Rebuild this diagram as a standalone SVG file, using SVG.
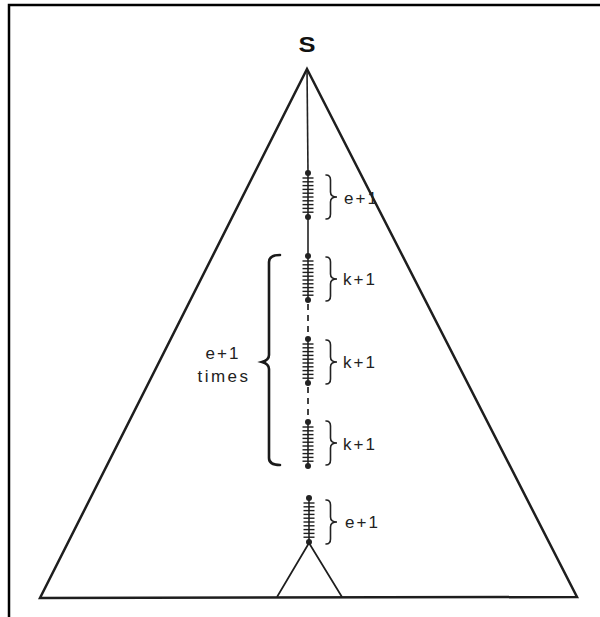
<svg xmlns="http://www.w3.org/2000/svg" xmlns:xlink="http://www.w3.org/1999/xlink" width="600" height="617" viewBox="0 0 600 617">
<style>
.frame{stroke:#000;stroke-width:2.5;fill:none}
.tri{stroke:#1e1e1e;stroke-width:2.5;fill:none;stroke-linejoin:miter}
.small{stroke:#1e1e1e;stroke-width:1.7;fill:none}
.spine{stroke:#222;stroke-width:1.6;fill:none}
.dash{stroke:#222;stroke-width:1.7;fill:none;stroke-dasharray:6 5}
.tick{stroke:#1e1e1e;stroke-width:1.4}
.brace{stroke:#222;stroke-width:1.6;fill:none;stroke-linecap:round}
.bigbrace{stroke:#1a1a1a;stroke-width:2.6;fill:none;stroke-linecap:round}
.lbl{font-family:"Liberation Sans",Arial,sans-serif;font-size:17px;letter-spacing:2px;fill:#222}
.s{font-family:"Liberation Sans",Arial,sans-serif;font-size:22px;font-weight:bold;fill:#111}
</style>
<defs>
<g id="seg">
<line class="spine" x1="0" y1="0" x2="0" y2="44"/>
<g class="tick">
<line x1="-5.5" y1="5" x2="5.5" y2="5"/>
<line x1="-5.5" y1="8.8" x2="5.5" y2="8.8"/>
<line x1="-5.5" y1="12.6" x2="5.5" y2="12.6"/>
<line x1="-5.5" y1="16.4" x2="5.5" y2="16.4"/>
<line x1="-5.5" y1="20.2" x2="5.5" y2="20.2"/>
<line x1="-5.5" y1="24" x2="5.5" y2="24"/>
<line x1="-5.5" y1="27.8" x2="5.5" y2="27.8"/>
<line x1="-5.5" y1="31.6" x2="5.5" y2="31.6"/>
<line x1="-5.5" y1="35.4" x2="5.5" y2="35.4"/>
<line x1="-5.5" y1="39.2" x2="5.5" y2="39.2"/>
</g>
<circle cx="0" cy="0" r="3" fill="#222"/>
<circle cx="0" cy="44" r="3" fill="#222"/>
</g>
<path id="br" class="brace" d="M0,0 Q4.5,0 4.5,5 L4.5,17 Q4.5,22 11,22 Q4.5,22 4.5,27 L4.5,39 Q4.5,44 0,44"/>
</defs>

<g id="frame">
<polyline class="frame" points="9,617 9,5 600,5"/>
</g>

<g id="tree">
<polygon class="tri" points="307,69 577,597 40,598"/>
<text class="s" x="307" y="52" text-anchor="middle" textLength="17" lengthAdjust="spacingAndGlyphs">S</text>
</g>

<g id="connectors">
<line class="spine" x1="307" y1="69" x2="308" y2="173"/>
<line class="spine" x1="308" y1="217" x2="308" y2="256"/>
<line class="dash" x1="308" y1="304" x2="308" y2="339"/>
<line class="dash" x1="308" y1="387" x2="308" y2="422"/>
</g>

<g id="seg-e1-top">
<use xlink:href="#seg" transform="translate(308,173)"/>
<use xlink:href="#br" transform="translate(326,175)"/>
<text class="lbl" x="344" y="204">e+1</text>
</g>

<g id="seg-k1-a">
<use xlink:href="#seg" transform="translate(308,256)"/>
<use xlink:href="#br" transform="translate(326,257)"/>
<text class="lbl" x="343" y="285">k+1</text>
</g>

<g id="seg-k1-b">
<use xlink:href="#seg" transform="translate(308,339)"/>
<use xlink:href="#br" transform="translate(326,340)"/>
<text class="lbl" x="343" y="368">k+1</text>
</g>

<g id="seg-k1-c">
<use xlink:href="#seg" transform="translate(308,422)"/>
<use xlink:href="#br" transform="translate(326,421)"/>
<text class="lbl" x="343" y="450">k+1</text>
</g>

<g id="repeat-brace">
<path class="bigbrace" d="M280,255 Q269,255 269,262 L269,355 Q269,360 262,362 Q269,364 269,369 L269,458 Q269,465 280,465"/>
<text class="lbl" x="223" y="359" text-anchor="middle">e+1</text>
<text class="lbl" x="224" y="382" text-anchor="middle" style="letter-spacing:2.5px">times</text>
</g>

<g id="seg-e1-bottom">
<use xlink:href="#seg" transform="translate(309,498)"/>
<use xlink:href="#br" transform="translate(326,500)"/>
<text class="lbl" x="345" y="528">e+1</text>
</g>

<g id="subtree">
<polyline class="small" points="277,597 309,543 342,597"/>
</g>
</svg>
